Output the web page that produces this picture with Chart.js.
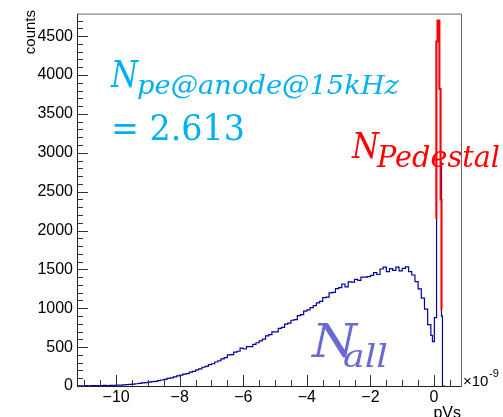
<!DOCTYPE html>
<html>
<head>
<meta charset="utf-8">
<script src="https://cdn.jsdelivr.net/npm/chart.js@4"></script>
<style>
  body { margin: 0; background: #fff; }
  canvas { display: block; }
</style>
</head>
<body>
<canvas id="chart" width="503" height="417"></canvas>
<script>
// all events, bins of 0.1 (x 1e-9 pVs) starting at -11.2
const binStart = -11.2;
const binWidth = 0.1;
const allCounts = [
  3, 2, 4, 3, 5, 4, 6, 5, 7, 6,
  8, 9, 11, 12, 15, 17, 21, 24, 29, 33,
  39, 43, 50, 56, 60, 69, 77, 84, 98, 104,
  118, 131, 139, 153, 160, 178, 188, 207, 219, 241,
  252, 274, 286, 309, 325, 349, 366, 401, 404, 437,
  447, 488, 476, 507, 506, 535, 556, 580, 604, 644,
  660, 696, 697, 742, 754, 795, 810, 846, 855, 906,
  917, 962, 980, 1008, 1033, 1068, 1088, 1138, 1143, 1197,
  1205, 1253, 1265, 1312, 1276, 1340, 1336, 1372, 1358, 1401,
  1400, 1406, 1424, 1458, 1434, 1505, 1530, 1470, 1510, 1488,
  1528, 1482, 1512, 1533, 1470, 1428, 1342, 1248, 1131, 988,
  790
];
// around the pedestal the bins are finer
const peakEdges = [-0.1, -0.05, 0.01, 0.08, 0.11, 0.17, 0.205, 0.235, 0.265, 0.35];
const allPeak = [650, 570, 880, 4430, 4700, 3820, 2880, 900, 0];
// pedestal only
const pedEdges = [0.07, 0.072, 0.11, 0.17, 0.205, 0.235, 0.245];
const pedCounts = [2150, 4430, 4700, 3820, 2400, 990];

const xTickValues = [-10, -8, -6, -4, -2, 0];
const yTickValues = [0, 500, 1000, 1500, 2000, 2500, 3000, 3500, 4000, 4500];

function histPoints(edges, counts, close) {
  const pts = counts.map((c, i) => ({ x: edges[i], y: c }));
  if (close) pts.push({ x: edges[counts.length], y: counts[counts.length - 1] });
  return pts;
}

const mainEdges = allCounts.map((c, i) => +(binStart + i * binWidth).toFixed(2));
const allPoints = histPoints(mainEdges, allCounts, false).concat(histPoints(peakEdges, allPeak, true));
const pedPoints = histPoints(pedEdges, pedCounts, true);

function fitText(ctx, text, x, y, font, color, width) {
  ctx.save();
  ctx.font = font;
  const w = ctx.measureText(text).width;
  ctx.translate(x, y);
  ctx.scale(width / w, 1);
  ctx.fillStyle = color;
  ctx.textAlign = 'left';
  ctx.textBaseline = 'alphabetic';
  ctx.fillText(text, 0, 0);
  ctx.restore();
}

// ROOT style frame: ticks drawn inside, plus the text labels
const rootFrame = {
  id: 'rootFrame',
  afterDraw(chart) {
    const { ctx, chartArea: a, scales: { x, y } } = chart;
    ctx.save();
    ctx.lineWidth = 1;
    ctx.strokeStyle = '#333';
    ctx.beginPath();
    for (let v = 0; v <= y.max; v += 100) {
      const py = Math.round(y.getPixelForValue(v)) + 0.5;
      const len = v % 500 === 0 ? 11 : 6;
      ctx.moveTo(a.left, py);
      ctx.lineTo(a.left + len, py);
    }
    for (let v = -11; v <= x.max; v += 0.5) {
      const px = Math.round(x.getPixelForValue(v)) + 0.5;
      const len = Math.abs(v % 2) < 1e-9 ? 11 : 6;
      ctx.moveTo(px, a.bottom);
      ctx.lineTo(px, a.bottom - len);
    }
    ctx.stroke();

    ctx.strokeStyle = '#222';
    ctx.beginPath();
    ctx.moveTo(a.left + 0.5, a.top);
    ctx.lineTo(a.left + 0.5, a.bottom + 1);
    ctx.moveTo(a.left, a.bottom + 0.5);
    ctx.lineTo(a.right, a.bottom + 0.5);
    ctx.stroke();
    ctx.strokeStyle = '#666';
    ctx.beginPath();
    ctx.moveTo(a.left, a.top + 0.5);
    ctx.lineTo(a.right - 0.5, a.top + 0.5);
    ctx.lineTo(a.right - 0.5, a.bottom + 1);
    ctx.stroke();

    // axis titles
    ctx.fillStyle = '#000';
    ctx.font = '15px "Liberation Sans", Arial, sans-serif';
    ctx.save();
    ctx.translate(35, 10);
    ctx.rotate(-Math.PI / 2);
    ctx.textAlign = 'right';
    ctx.fillText('counts', 0, 0);
    ctx.restore();
    ctx.font = '16px "Liberation Sans", Arial, sans-serif';
    ctx.textAlign = 'right';
    ctx.fillText('pVs', 461, 418);
    ctx.textAlign = 'left';
    ctx.font = '15px "Liberation Sans", Arial, sans-serif';
    ctx.fillText('\u00d710', 463, 386);
    ctx.font = '11px "Liberation Sans", Arial, sans-serif';
    ctx.fillText('-9', 489, 377);

    // annotations
    const serifI = 'italic {s}px "DejaVu Serif", serif';
    const cyan = '#00b0f0';
    fitText(ctx, 'N', 111, 87, serifI.replace('{s}', 37), cyan, 27);
    fitText(ctx, 'pe@anode@15kHz', 137, 94, serifI.replace('{s}', 26), cyan, 262);
    fitText(ctx, '= 2.613', 111, 140, '36px "DejaVu Serif", serif', cyan, 134);
    fitText(ctx, 'N', 352, 158, serifI.replace('{s}', 36), '#ff0000', 27);
    fitText(ctx, 'Pedestal', 377, 167, serifI.replace('{s}', 30), '#ff0000', 123);
    fitText(ctx, 'N', 312, 357, serifI.replace('{s}', 46), '#6a6ad0', 45);
    fitText(ctx, 'all', 343, 367, serifI.replace('{s}', 32), '#6a6ad0', 45);
    ctx.restore();
  }
};

new Chart(document.getElementById('chart'), {
  type: 'line',
  data: {
    datasets: [
      {
        label: 'Pedestal',
        data: pedPoints,
        stepped: 'before',
        borderColor: '#ff0000',
        borderWidth: 2,
        pointRadius: 0,
        fill: false
      },
      {
        label: 'All',
        data: allPoints,
        stepped: 'before',
        borderColor: '#00009c',
        borderWidth: 1.2,
        pointRadius: 0,
        fill: false
      }
    ]
  },
  options: {
    responsive: false,
    animation: false,
    layout: { padding: { top: 9, right: 41, left: 0, bottom: 0 } },
    plugins: { legend: { display: false }, tooltip: { enabled: false } },
    scales: {
      x: {
        type: 'linear',
        min: -11.23,
        max: 0.88,
        grid: { display: false, drawTicks: false },
        border: { display: false },
        afterBuildTicks: s => { s.ticks = xTickValues.map(v => ({ value: v })); },
        ticks: {
          padding: 2,
          color: '#000',
          font: { family: '"Liberation Sans", Arial, sans-serif', size: 16 },
          maxRotation: 0,
          autoSkip: false,
          callback: v => (v < 0 ? '\u2212' + Math.abs(v) : String(v))
        },
        afterFit: s => { s.height = 31; }
      },
      y: {
        min: 0,
        max: 4790,
        grid: { display: false, drawTicks: false },
        border: { display: false },
        afterBuildTicks: s => { s.ticks = yTickValues.map(v => ({ value: v })); },
        ticks: {
          padding: 4,
          color: '#000',
          autoSkip: false,
          font: { family: '"Liberation Sans", Arial, sans-serif', size: 16 },
          callback: v => String(v)
        },
        afterFit: s => { s.width = 77; }
      }
    }
  },
  plugins: [rootFrame]
});
</script>
</body>
</html>
